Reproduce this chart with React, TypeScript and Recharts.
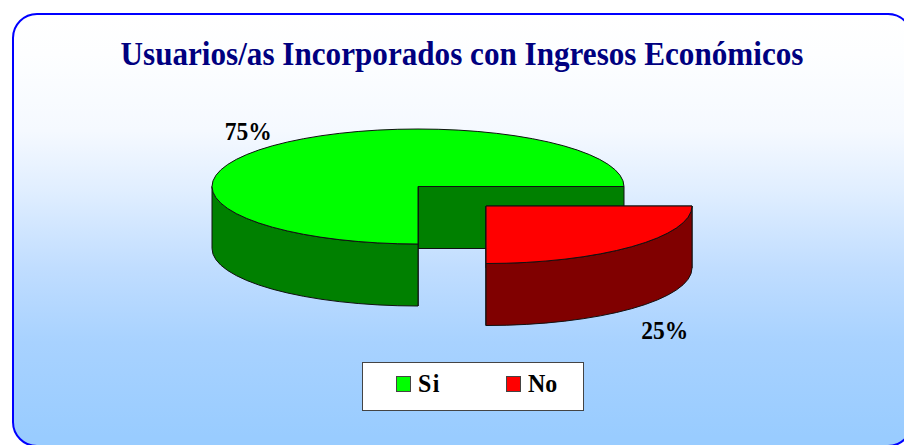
import React from "react";
import { PieChart, Pie, Legend } from "recharts";

const categories = ["Si", "No"];
const shares = [75, 25];

const TITLE = "Usuarios/as Incorporados con Ingresos Económicos";
const TOP_COLORS = ["#00ff00", "#ff0000"];
const SIDE_COLORS = ["#008000", "#800000"];
const EXPLODE = [0, 1];

const W = 904;
const H = 445;
const CX = 418;
const CY = 186.5;
const RX = 206;
const SQUASH = 57.5 / 206;
const DEPTH = 62;
const EXPLODE_X = 0.467;
const EXPLODE_Y = 0.134;
const EDGE = "#111111";
const SERIF = "'Liberation Serif', serif";

const pieData = categories.map((name, i) => ({
  name,
  value: shares[i],
  fill: TOP_COLORS[i],
}));

const rad = (a: number) => (a * Math.PI) / 180;

function explodeOffset(index: number, mid: number, r: number) {
  const k = EXPLODE[index] * r;
  return { x: k * EXPLODE_X * Math.cos(rad(mid)), y: -k * EXPLODE_Y * Math.sin(rad(mid)) };
}

function Slice3D(props: any) {
  const { cx, cy, outerRadius: r, startAngle, endAngle, index, fill } = props;
  const a1 = Math.min(startAngle, endAngle);
  const a2 = Math.max(startAngle, endAngle);
  const off = explodeOffset(index, (a1 + a2) / 2, r);
  const ox = cx + off.x;
  const oy = cy + off.y;
  const ry = r * SQUASH;
  const pt = (a: number) => ({
    x: ox + r * Math.cos(rad(a)),
    y: oy - ry * Math.sin(rad(a)),
  });
  const side = SIDE_COLORS[index];
  const s = pt(a1);
  const e = pt(a2);
  const large = a2 - a1 > 180 ? 1 : 0;
  const top = `M${ox},${oy}L${s.x},${s.y}A${r},${ry} 0 ${large} 0 ${e.x},${e.y}Z`;
  const face = (p: { x: number; y: number }) =>
    `M${ox},${oy}L${p.x},${p.y}L${p.x},${p.y + DEPTH}L${ox},${oy + DEPTH}Z`;
  const w1 = Math.max(a1, 180);
  const w2 = Math.min(a2, 360);
  const wa = pt(w1);
  const wb = pt(w2);
  const wall =
    w2 > w1
      ? `M${wa.x},${wa.y}A${r},${ry} 0 0 0 ${wb.x},${wb.y}L${wb.x},${wb.y + DEPTH}A${r},${ry} 0 0 1 ${wa.x},${wa.y + DEPTH}Z`
      : "";
  return (
    <g stroke={EDGE} strokeWidth={1} strokeLinejoin="round">
      <path d={face(s)} fill={side} />
      <path d={face(e)} fill={side} />
      {wall && <path d={wall} fill={side} />}
      <path d={top} fill={fill} />
    </g>
  );
}

function PercentLabel(props: any) {
  const { cx, cy, outerRadius: r, midAngle, index, percent } = props;
  const off = explodeOffset(index, midAngle, r);
  const px = cx + off.x + r * Math.cos(rad(midAngle));
  const py = cy + off.y - r * SQUASH * Math.sin(rad(midAngle));
  const lower = Math.sin(rad(midAngle)) < 0;
  const x = px + (lower ? 33 : -24);
  const y = py + (lower ? DEPTH + 22 : -15);
  return (
    <text
      x={0}
      y={0}
      transform={`translate(${x} ${y}) scale(0.94 1)`}
      textAnchor="middle"
      dominantBaseline="central"
      fontFamily={SERIF}
      fontWeight="bold"
      fontSize={25}
      fill="#000000"
    >
      {`${Math.round(percent * 100)}%`}
    </text>
  );
}

function LegendBox(props: any) {
  const items = props.payload || [];
  return (
    <div
      style={{
        width: 222,
        height: 49,
        boxSizing: "border-box",
        background: "#ffffff",
        border: "1px solid #444444",
        position: "relative",
        fontFamily: SERIF,
        fontWeight: "bold",
        fontSize: 26,
        color: "#000000",
      }}
    >
      {items.map((it: any, i: number) => (
        <div
          key={it.value}
          style={{ position: "absolute", left: 33 + i * 110, top: -3, height: 47, display: "flex", alignItems: "center" }}
        >
          <span
            style={{
              width: 15,
              height: 16,
              boxSizing: "border-box",
              background: it.color,
              border: "1px solid #444444",
              marginRight: 7,
              display: "inline-block",
            }}
          />
          <span
            style={{
              letterSpacing: i === 0 ? 1.5 : 0,
              lineHeight: "47px",
              display: "inline-block",
              transform: "scaleX(0.92)",
              transformOrigin: "left center",
            }}
          >
            {it.value}
          </span>
        </div>
      ))}
    </div>
  );
}

export default function App() {
  return (
    <div style={{ position: "absolute", left: 0, top: 0, width: W, height: H, overflow: "hidden", background: "#ffffff" }}>
      <div
        style={{
          position: "absolute",
          left: 12,
          top: 13,
          width: 901,
          height: 434,
          boxSizing: "border-box",
          border: "2px solid #0000ff",
          borderRadius: 25,
          background:
            "linear-gradient(to bottom, #ffffff 0%, #fdfeff 9%, #f5f9ff 27%, #e0eeff 41%, #c0ddff 59%, #a8d2ff 76%, #99ccff 98%)",
        }}
      />
      <div
        style={{
          position: "absolute",
          left: 0,
          top: 35,
          width: 924,
          textAlign: "center",
          fontFamily: SERIF,
          fontWeight: "bold",
          fontSize: 34,
          lineHeight: "38px",
          color: "#000080",
          whiteSpace: "nowrap",
          transform: "scaleX(0.916)",
          transformOrigin: "462px center",
        }}
      >
        {TITLE}
      </div>
      <div style={{ position: "absolute", left: 0, top: 0 }}>
        <PieChart width={W} height={H} margin={{ top: 0, right: 0, bottom: 0, left: 0 }}>
          <Pie
            data={pieData}
            dataKey="value"
            nameKey="name"
            cx={CX}
            cy={CY}
            innerRadius={0}
            outerRadius={RX}
            startAngle={0}
            endAngle={360}
            stroke="none"
            isAnimationActive={false}
            labelLine={false}
            label={PercentLabel}
            shape={Slice3D}
          />
          <Legend
            content={LegendBox}
            layout="horizontal"
            itemSorter={null}
            wrapperStyle={{ position: "absolute", left: 362, top: 362, width: 222, height: 49, bottom: "auto" }}
          />
        </PieChart>
      </div>
    </div>
  );
}
